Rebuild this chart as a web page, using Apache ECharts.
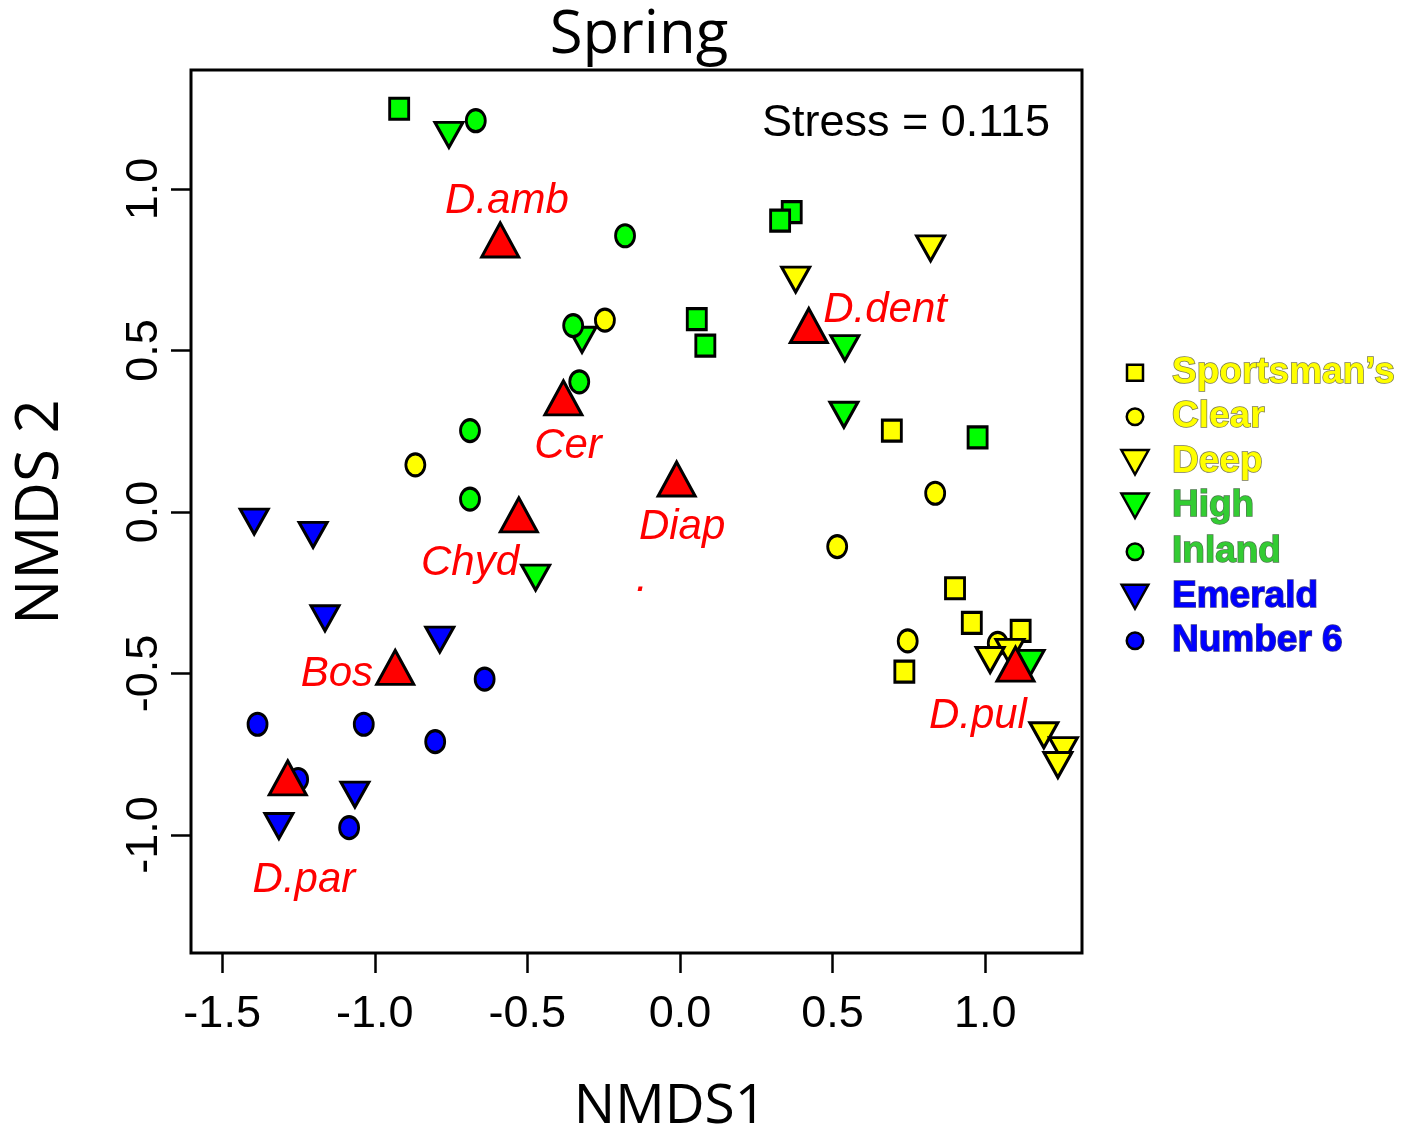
<!DOCTYPE html>
<html>
<head>
<meta charset="utf-8">
<title>Spring NMDS</title>
<script src="https://cdn.jsdelivr.net/npm/echarts@6/dist/echarts.min.js"></script>
<style>
  html, body { margin: 0; padding: 0; background: #ffffff; }
  #chart { width: 1408px; height: 1125px; }
</style>
</head>
<body>
<div id="chart"></div>
<script>
// NMDS site scores for the spring samples, one pair of arrays per lake
const sportsmansX = [0.694, 0.901, 0.956, 1.116, 0.735];
const sportsmansY = [0.252, -0.236, -0.343, -0.368, -0.494];

const clearX = [-0.246, -0.867, 0.836, 0.515, 0.746, 1.041];
const clearY = [0.594, 0.146, 0.058, -0.107, -0.399, -0.407];

const deepX = [0.821, 0.379, 1.081, 1.016, 1.192, 1.256, 1.238];
const deepY = [0.816, 0.719, -0.433, -0.458, -0.691, -0.737, -0.783];

const highX = [-0.757, -0.321, 0.540, 0.537, -0.473, 1.147];
const highY = [1.167, 0.533, 0.507, 0.301, -0.203, -0.467];

const inlandX = [-0.669, -0.180, -0.350, -0.330, -0.688, -0.688];
const inlandY = [1.211, 0.855, 0.577, 0.403, 0.252, 0.040];

const emeraldX = [-1.395, -1.202, -1.163, -0.787, -1.065, -1.314];
const emeraldY = [-0.030, -0.071, -0.329, -0.395, -0.875, -0.972];

const number6X = [-0.640, -1.384, -1.036, -0.802, -1.251, -1.084];
const number6Y = [-0.517, -0.657, -0.657, -0.711, -0.828, -0.977];

// green squares (lake without a legend entry)
const greenSquareX = [-0.920, 0.366, 0.328, 0.055, 0.083, 0.975];
const greenSquareY = [1.248, 0.928, 0.902, 0.597, 0.515, 0.231];

// species scores and where their names are written
const speciesNames = ['D.amb', 'D.dent', 'Cer', 'Diap', 'Chyd', 'Bos', 'D.par', 'D.pul'];
const speciesX = [-0.589, 0.422, -0.382, -0.011, -0.528, -0.933, -1.285, 1.099];
const speciesY = [0.842, 0.577, 0.353, 0.102, -0.009, -0.481, -0.823, -0.471];
const speciesLabelX = [-0.567, 0.672, -0.367, 0.007, -0.688, -1.124, -1.232, 0.976];
const speciesLabelY = [0.963, 0.625, 0.204, -0.046, -0.158, -0.502, -1.139, -0.632];

// a lone red full stop left in the plot
const strayText = ['.'];
const strayTextX = [-0.125];
const strayTextY = [-0.207];

const xTickValues = [-1.5, -1.0, -0.5, 0.0, 0.5, 1.0];
const yTickValues = [-1.0, -0.5, 0.0, 0.5, 1.0];

const lakeNames = ['Sportsman\u2019s', 'Clear', 'Deep', 'High', 'Inland', 'Emerald', 'Number 6'];
const stressText = 'Stress = 0.115';

// ---------------------------------------------------------------
const pairs = (xs, ys) => xs.map((x, i) => [x, ys[i]]);

const DOWN_TRI = 'path://M0,0L30,0L15,27Z';
const ELLIPSE = 'path://M0,10A10,10,0,1,1,20,10A10,10,0,1,1,0,10Z';
const SQUARE = 'path://M0,0L10,0L10,10L0,10Z';

const YELLOW = '#ffff00', GREEN = '#00ff00', BLUE = '#0000ff', RED = '#ff0000';

const CIRCLE_SIZE = [19, 22];
const SQUARE_SIZE = [19, 21];
const TRI_SIZE = [28, 25];

function siteSeries(name, xs, ys, symbol, size, fill) {
  return {
    type: 'scatter',
    name: name,
    data: pairs(xs, ys),
    symbol: symbol,
    symbolSize: size,
    itemStyle: { color: fill, borderColor: '#000', borderWidth: 3, opacity: 1 },
    emphasis: { disabled: true },
    z: 3
  };
}

function textSeries(texts, xs, ys) {
  return {
    type: 'custom',
    coordinateSystem: 'cartesian2d',
    data: pairs(xs, ys),
    encode: { x: 0, y: 1 },
    silent: true,
    z: 6,
    renderItem: function (params, api) {
      const p = api.coord([api.value(0), api.value(1)]);
      return {
        type: 'text',
        x: p[0],
        y: p[1],
        style: {
          text: texts[params.dataIndex],
          fill: RED,
          fontFamily: 'Liberation Sans',
          fontStyle: 'italic',
          fontSize: 42,
          align: 'center',
          verticalAlign: 'middle'
        }
      };
    }
  };
}

const series = [
  siteSeries('Unlisted lake', greenSquareX, greenSquareY, 'rect', SQUARE_SIZE, GREEN),
  siteSeries(lakeNames[0], sportsmansX, sportsmansY, 'rect', SQUARE_SIZE, YELLOW),
  siteSeries(lakeNames[1], clearX, clearY, ELLIPSE, CIRCLE_SIZE, YELLOW),
  siteSeries(lakeNames[2], deepX, deepY, DOWN_TRI, TRI_SIZE, YELLOW),
  siteSeries(lakeNames[3], highX, highY, DOWN_TRI, TRI_SIZE, GREEN),
  siteSeries(lakeNames[4], inlandX, inlandY, ELLIPSE, CIRCLE_SIZE, GREEN),
  siteSeries(lakeNames[5], emeraldX, emeraldY, DOWN_TRI, TRI_SIZE, BLUE),
  siteSeries(lakeNames[6], number6X, number6Y, ELLIPSE, CIRCLE_SIZE, BLUE),
  {
    type: 'scatter',
    name: 'Species',
    data: pairs(speciesX, speciesY),
    symbol: 'triangle',
    symbolSize: [37, 34],
    itemStyle: { color: RED, borderColor: '#000', borderWidth: 3, opacity: 1 },
    emphasis: { disabled: true },
    z: 4
  },
  textSeries(speciesNames, speciesLabelX, speciesLabelY),
  textSeries(strayText, strayTextX, strayTextY)
];

// legend: one block per lake so each icon keeps its own size.
// A legend block is placed by its drawn bounds, so the left edge is the
// icon's left edge (icon centre minus half of its stroked width).
const LEGEND_ICON_CENTER_X = 1135;
const LEGEND_BORDER = 2.5;
const legendIcons = [SQUARE, 'circle', DOWN_TRI, DOWN_TRI, 'circle', DOWN_TRI, 'circle'];
const legendIconHeights = [16, 16.5, 24.5, 24.5, 16.5, 24, 16.5];
const legendIconWidths = [16, 16.5, 24.5 * 30 / 27, 24.5 * 30 / 27, 16.5, 24 * 30 / 27, 16.5];
const legendTextColors = [YELLOW, YELLOW, YELLOW, '#33cc33', '#33cc33', BLUE, BLUE];
const legendTextBorders = ['#7a7a52', '#7a7a52', '#7a7a52', '#4d7a4d', '#4d7a4d', '#3a3a8a', '#3a3a8a'];
const legendRowCenters = [372, 416, 461.5, 505, 551, 596, 640];

const legends = lakeNames.map((name, i) => {
  const inkW = legendIconWidths[i] + LEGEND_BORDER;
  return {
    data: [{ name: name, icon: legendIcons[i] }],
    orient: 'vertical',
    left: LEGEND_ICON_CENTER_X - inkW / 2,
    top: legendRowCenters[i] - 18.5,
    padding: 0,
    itemWidth: 64,
    itemHeight: legendIconHeights[i],
    selectedMode: false,
    itemStyle: { borderColor: '#000', borderWidth: LEGEND_BORDER },
    textStyle: {
      color: legendTextColors[i],
      fontFamily: 'Liberation Sans',
      fontWeight: 'bold',
      fontSize: 37,
      lineHeight: 37,
      textBorderColor: legendTextBorders[i],
      textBorderWidth: 1.5
    }
  };
});

const chart = echarts.init(document.getElementById('chart'), null, { renderer: 'canvas' });

chart.setOption({
  animation: false,
  backgroundColor: '#ffffff',
  grid: {
    left: 191, right: 326, top: 70, bottom: 172,
    show: true, borderColor: '#000', borderWidth: 3,
    backgroundColor: 'transparent',
    containLabel: false,
    outerBoundsMode: 'none'
  },
  xAxis: {
    type: 'value',
    position: 'bottom',
    min: -1.602, max: 1.317,
    axisLine: { show: false, onZero: false },
    splitLine: { show: false },
    axisTick: {
      show: true, inside: false, length: 20, customValues: xTickValues,
      lineStyle: { color: '#000', width: 2.5 }
    },
    axisLabel: {
      show: true, customValues: xTickValues, margin: 39,
      formatter: v => v.toFixed(1),
      color: '#000', fontFamily: 'Liberation Sans', fontSize: 45, lineHeight: 45
    }
  },
  yAxis: {
    type: 'value',
    position: 'left',
    min: -1.365, max: 1.368,
    axisLine: { show: false, onZero: false },
    splitLine: { show: false },
    axisTick: {
      show: true, inside: false, length: 20, customValues: yTickValues,
      lineStyle: { color: '#000', width: 2.5 }
    },
    axisLabel: {
      show: true, customValues: yTickValues, margin: 24, rotate: 90,
      formatter: v => v.toFixed(1),
      color: '#000', fontFamily: 'Liberation Sans', fontSize: 45, lineHeight: 45
    }
  },
  legend: legends,
  series: series,
  graphic: [
    {
      type: 'text', x: 639, y: 36, silent: true,
      style: { text: 'Spring', align: 'center', verticalAlign: 'middle',
               fontFamily: 'Open Sans', fontSize: 60, fill: '#000' }
    },
    {
      type: 'text', x: 1050, y: 124, silent: true,
      style: { text: stressText, align: 'right', verticalAlign: 'middle',
               fontFamily: 'Liberation Sans', fontSize: 45, fill: '#000' }
    },
    {
      type: 'text', x: 670, y: 1107, silent: true,
      style: { text: 'NMDS1', align: 'center', verticalAlign: 'middle',
               fontFamily: 'Open Sans', fontSize: 55, fill: '#000' }
    },
    {
      type: 'text', x: 41, y: 512, rotation: Math.PI / 2, silent: true,
      style: { text: 'NMDS 2', align: 'center', verticalAlign: 'middle',
               fontFamily: 'Open Sans', fontSize: 60, fill: '#000' }
    }
  ]
});
</script>
</body>
</html>
